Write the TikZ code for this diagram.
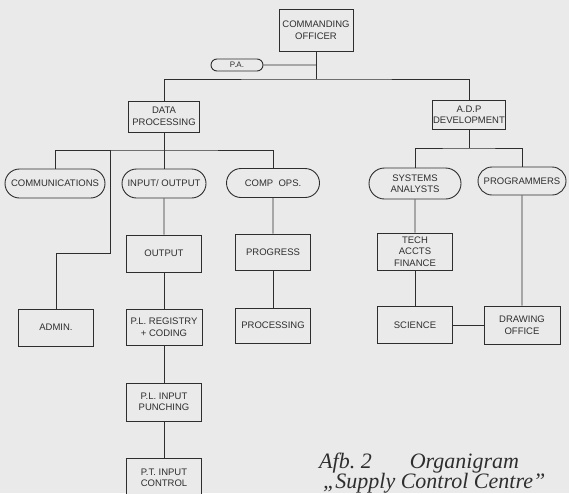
\documentclass[tikz,border=0pt]{standalone}
\usepackage{fontspec}
\setmainfont{Liberation Serif}
\setsansfont{Liberation Sans}
\usetikzlibrary{shapes.misc}
\definecolor{paper}{HTML}{EAEAEA}
\definecolor{ink}{HTML}{2E2E2E}

\begin{document}
\begin{tikzpicture}[x=1pt,y=-1pt,
      box/.style={
        draw=ink,
        fill=paper,
        text=ink,
        line width=0.9pt,
        minimum width=75pt,
        minimum height=37pt,
        inner sep=1pt,
        align=center,
        font=\sffamily\fontsize{9.5}{11.5}\selectfont,
      },
      pill/.style={box,rounded rectangle,minimum height=29pt},
      line/.style={draw=ink,line width=0.9pt},
      caption/.style={font=\itshape\fontsize{22}{25}\selectfont,text=ink,anchor=base west,inner sep=0pt},
      ]
      \useasboundingbox (0,0) rectangle (569,493);
      \clip (0,0) rectangle (569,493);
      \fill[paper] (0,0) rectangle (569,493);

      \node[box,minimum width=74pt,minimum height=42pt] (co) at (316,30) {COMMANDING\\OFFICER};
      \node[pill,minimum width=54pt,minimum height=12pt,font=\sffamily\fontsize{8}{9}\selectfont] (pa) at (237,65) {P.A.};
      \node[box,minimum width=71pt,minimum height=31pt] (dp) at (164,116.5) {DATA\\PROCESSING};
      \node[box,minimum width=70pt,minimum height=29pt] (adp) at (469,115) {A.D.P\\DEVELOPMENT};

      \node[pill,minimum width=102pt] (comm) at (55,183.5) {COMMUNICATIONS};
      \node[pill,minimum width=86pt] (io) at (164,183.5) {INPUT/ OUTPUT};
      \node[pill,minimum width=95pt] (comp) at (273,183) {COMP\ \ OPS.};
      \node[pill,minimum width=94pt,minimum height=31pt] (sa) at (415,183.5) {SYSTEMS\\ANALYSTS};
      \node[pill,minimum width=90pt,minimum height=28pt] (prog) at (522,181) {PROGRAMMERS};

      \node[box] (out) at (164,253.5) {OUTPUT};
      \node[box,minimum height=36pt] (progress) at (273,252) {PROGRESS};
      \node[box] (tech) at (415,251.5) {TECH\\ACCTS\\FINANCE};

      \node[box] (admin) at (56,327.5) {ADMIN.};
      \node[box,minimum width=76pt,minimum height=36pt] (reg) at (164,327) {P.L. REGISTRY\\+ CODING};
      \node[box,minimum height=35pt] (proc) at (273,325.5) {PROCESSING};
      \node[box] (sci) at (415,325) {SCIENCE};
      \node[box,minimum width=76pt,minimum height=38pt] (drawoff) at (522,325) {DRAWING\\OFFICE};

      \node[box,minimum height=38pt] (punch) at (164,402) {P.L. INPUT\\PUNCHING};
      \node[box,minimum height=40pt] (ctrl) at (164,478) {P.T. INPUT\\CONTROL};

      \node[caption] (cap1) at (319,468) {Afb.~2\hspace{38pt}Organigram};
      \node[caption] (cap2) at (323,488) {„Supply Control Centre”};

      % top level
      \coordinate (cojoin) at (316,79);
      \draw[line] (co) -- (cojoin);
      \draw[line] (pa) -- (pa -| co);
      \draw[line] (dp) |- (cojoin) -| (adp);

      % data processing branch
      \coordinate (dpjoin) at (164,150);
      \coordinate (adminup) at (110,150);
      \coordinate (admindown) at (110,253);
      \draw[line] (dp) -- (io);
      \draw[line] (comm) |- (dpjoin) -| (comp);
      \draw[line] (adminup) -- (admindown) -| (admin);

      % development branch
      \coordinate (adpjoin) at (469,148);
      \draw[line] (adp) -- (adpjoin);
      \draw[line] (sa) |- (adpjoin) -| (prog);

      \foreach \a/\b in {io/out,out/reg,reg/punch,punch/ctrl,comp/progress,progress/proc,sa/tech,tech/sci,sci/drawoff,prog/drawoff}
        \draw[line] (\a) -- (\b);
    \end{tikzpicture}
\end{document}
